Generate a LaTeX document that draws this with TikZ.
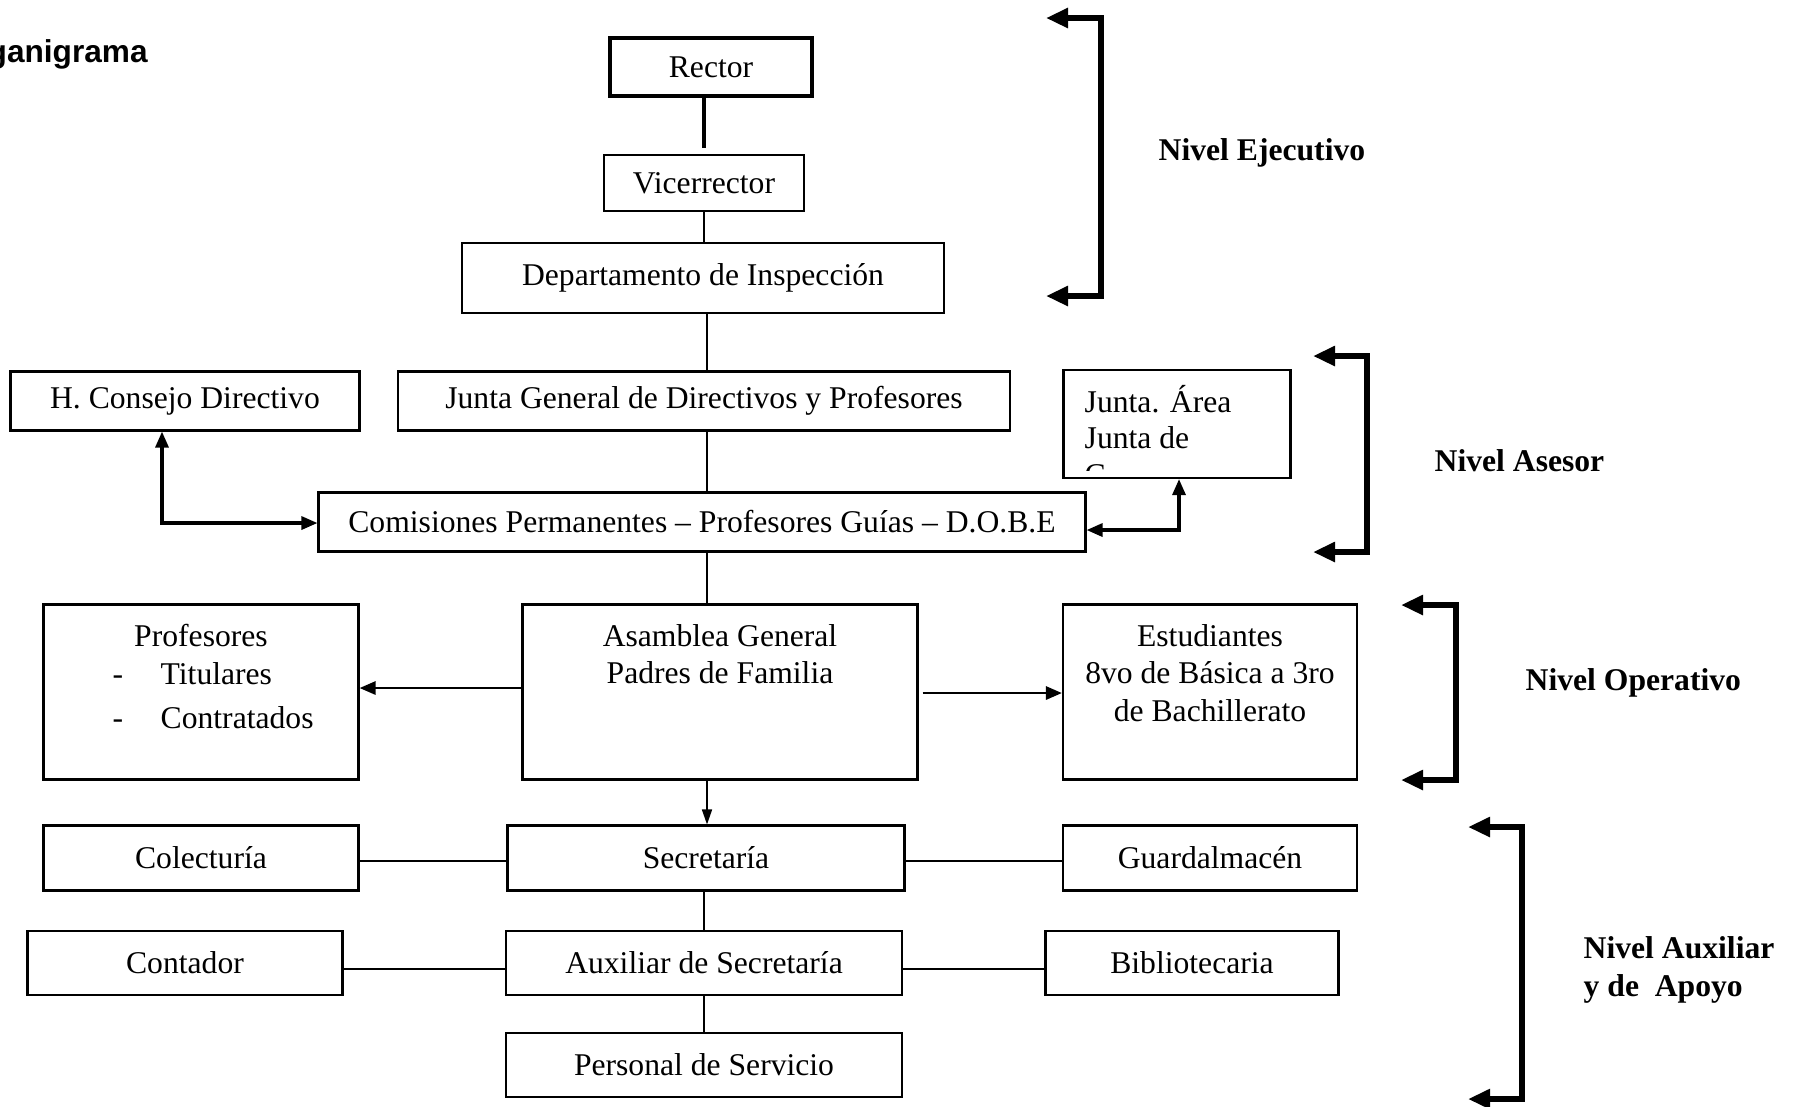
\documentclass[tikz,border=0pt]{standalone}
\usepackage{fontspec}
\setmainfont{Liberation Serif}
\newfontfamily\titulofont{Liberation Sans}
\usetikzlibrary{arrows.meta}

\begin{document}
\begin{tikzpicture}[x=0.1mm, y=-0.1mm,
		font=\fontsize{9}{10.6}\selectfont,
		caja/.style={draw, line width=0.6pt, inner sep=0pt},
		linea/.style={line width=0.45pt},
		lineagruesa/.style={line width=0.8pt},
		flecha/.style={line width=0.8pt, -{Triangle[length=1.6mm, width=1.3mm]}},
		dobleflecha/.style={line width=0.9pt, {Triangle[length=1.6mm, width=1.3mm]}-{Triangle[length=1.6mm, width=1.3mm]}},
		corchete/.style={line width=1.6pt, {Triangle[length=2.2mm, width=1.9mm]}-{Triangle[length=2.2mm, width=1.9mm]}},
		nivel/.style={font=\fontsize{9}{10.6}\selectfont\bfseries, anchor=west, inner sep=0pt}]
		\useasboundingbox (0,0) rectangle (1798,1106);
		\node[anchor=west, inner sep=0pt, font=\titulofont\fontsize{9}{10.6}\selectfont\bfseries] (titulo) at (-13,54) {ganigrama};

		% nivel ejecutivo
		\node[caja, line width=1.3pt, minimum width=20.2mm, minimum height=5.8mm] (rector) at (711,67) {Rector};
		\node[caja, minimum width=20mm, minimum height=5.6mm] (vice) at (704,183) {Vicerrector};
		\node[caja, minimum width=48.2mm, minimum height=7mm] (insp) at (703,278) {Departamento de Inspección};

		% nivel asesor
		\node[caja, minimum width=34.9mm, minimum height=5.9mm] (consejo) at (185,401) {H. Consejo Directivo};
		\node[caja, minimum width=61.2mm, minimum height=5.9mm] (junta) at (704,401) {Junta General de Directivos y Profesores};
		\node[caja, minimum width=22.7mm, minimum height=10.8mm] (area) at (1177,424) {};
		\node[anchor=base west, inner sep=0pt] (area1) at (1084,412) {Junta. Área};
		\node[anchor=base west, inner sep=0pt] (area2) at (1084,448) {Junta de};
		\begin{scope}
			\clip (1064,371) rectangle (1289,470);
			\node[anchor=base west, inner sep=0pt] (area3) at (1084,485) {C};
		\end{scope}
		\node[caja, minimum width=76.7mm, minimum height=5.9mm] (comis) at (702,522) {Comisiones Permanentes -- Profesores Guías -- D.O.B.E};

		% nivel operativo
		\node[caja, minimum width=31.5mm, minimum height=17.5mm] (prof) at (201,692) {};
		\node[anchor=base, inner sep=0pt] (prof1) at (201,646) {Profesores};
		\node[anchor=base, inner sep=0pt] (guion1) at (118,684) {-};
		\node[anchor=base west, inner sep=0pt] (prof2) at (160,684) {Titulares};
		\node[anchor=base, inner sep=0pt] (guion2) at (118,728) {-};
		\node[anchor=base west, inner sep=0pt] (prof3) at (160,728) {Contratados};
		\node[caja, minimum width=39.5mm, minimum height=17.5mm] (asam) at (720,692) {};
		\node[anchor=north, align=center, inner sep=0pt] (asamtxt) at (720,624) {Asamblea General\\Padres de Familia};
		\node[caja, minimum width=29.4mm, minimum height=17.5mm] (estud) at (1210,692) {};
		\node[anchor=north, align=center, inner sep=0pt] (estudtxt) at (1210,624) {Estudiantes\\8vo de Básica a 3ro\\de Bachillerato};

		% nivel auxiliar y de apoyo
		\node[caja, minimum width=31.5mm, minimum height=6.5mm] (colec) at (201,858) {Colecturía};
		\node[caja, minimum width=39.7mm, minimum height=6.5mm] (secre) at (706,858) {Secretaría};
		\node[caja, minimum width=29.4mm, minimum height=6.5mm] (guard) at (1210,858) {Guardalmacén};
		\node[caja, minimum width=31.5mm, minimum height=6.4mm] (conta) at (185,963) {Contador};
		\node[caja, minimum width=39.6mm, minimum height=6.4mm] (auxsec) at (704,963) {Auxiliar de Secretaría};
		\node[caja, minimum width=29.3mm, minimum height=6.4mm] (biblio) at (1192,963) {Bibliotecaria};
		\node[caja, minimum width=39.6mm, minimum height=6.4mm] (personal) at (704,1065) {Personal de Servicio};

		% conectores
		\draw[line width=1.2pt, shorten >=0.6mm] (rector.south -| vice) -- (vice.north);
		\draw[linea] (vice.south) -- (vice.south |- insp.north);
		\draw[linea] (insp.south -| 707,0) -- (junta.north -| 707,0);
		\draw[linea] (junta.south -| 707,0) -- (comis.north -| 707,0);
		\draw[linea] (comis.south -| 707,0) -- (asam.north -| 707,0);
		\coordinate (esq1) at (162,523);
		\coordinate (esq2) at (1179,530);
		\draw[dobleflecha] (consejo.south -| esq1) -- (esq1) -- (comis.west |- esq1);
		\draw[dobleflecha] (area.south -| esq2) -- (esq2) -- (comis.east |- esq2);
		\draw[flecha] ([yshift=0.4mm]asam.west) -- ([yshift=0.4mm]prof.east);
		\draw[flecha] ([xshift=0.4mm, yshift=-0.1mm]asam.east) -- ([yshift=-0.1mm]estud.west);
		\draw[linea, -{Triangle[length=1.5mm, width=1mm]}] (asam.south -| 707,0) -- (secre.north -| 707,0);
		\draw[lineagruesa] ([yshift=-0.3mm]colec.east) -- ([yshift=-0.3mm]secre.west);
		\draw[lineagruesa] ([yshift=-0.3mm]secre.east) -- ([yshift=-0.3mm]guard.west);
		\draw[linea] (secre.south -| auxsec) -- (auxsec.north);
		\draw[lineagruesa] ([yshift=-0.6mm]conta.east) -- ([yshift=-0.6mm]auxsec.west);
		\draw[lineagruesa] ([yshift=-0.6mm]auxsec.east) -- ([yshift=-0.6mm]biblio.west);
		\draw[linea] (auxsec) -- (personal);

		% niveles
		\draw[corchete] (1046,18) -- (1101,18) -- (1101,296) -- (1046,296);
		\node[nivel] (ejec) at (1158,153) {Nivel Ejecutivo};
		\draw[corchete] (1313,356) -- (1367,356) -- (1367,552) -- (1313,552);
		\node[nivel] (ases) at (1434,461) {Nivel Asesor};
		\draw[corchete] (1401,605) -- (1456,605) -- (1456,780) -- (1401,780);
		\node[nivel] (oper) at (1525,683) {Nivel Operativo};
		\draw[corchete] (1468,827) -- (1522,827) -- (1522,1099) -- (1468,1099);
		\node[nivel, align=left] (auxi) at (1583,970) {Nivel Auxiliar\\y de\ \ Apoyo};
	\end{tikzpicture}
\end{document}
